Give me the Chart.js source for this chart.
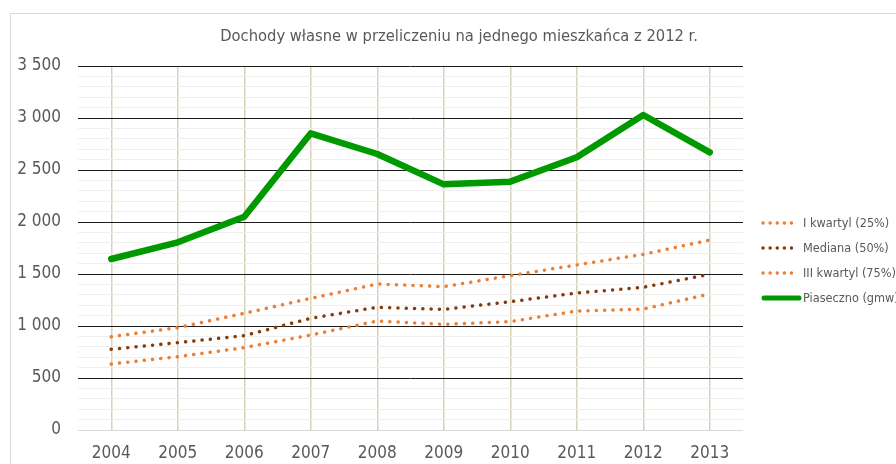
<!DOCTYPE html>
<html><head><meta charset="utf-8">
<script src="https://cdn.jsdelivr.net/npm/chart.js@4.4.0/dist/chart.umd.min.js"></script>
<style>
html,body{margin:0;padding:0;background:#fff;}
#wrap{position:relative;width:896px;height:464px;overflow:hidden;}
#frame{position:absolute;left:10px;top:13px;width:900px;height:470px;border:1px solid #d9d9d9;box-sizing:border-box;}
canvas{position:absolute;left:0;top:0;}
</style></head><body>
<div id="wrap"><div id="frame"></div><canvas id="c" width="896" height="464"></canvas></div>
<script>
const chartTitle = 'Dochody własne w przeliczeniu na jednego mieszkańca z 2012 r.';
const years = ['2004','2005','2006','2007','2008','2009','2010','2011','2012','2013'];
const q1 = [635, 705, 792, 913, 1048, 1016, 1042, 1144, 1163, 1308];
const median = [776, 840, 907, 1074, 1180, 1160, 1234, 1317, 1372, 1497];
const q3 = [897, 984, 1122, 1266, 1404, 1378, 1484, 1587, 1689, 1827];
const piaseczno = [1644, 1805, 2051, 2853, 2654, 2362, 2388, 2622, 3029, 2670];
const seriesNames = ['I kwartyl (25%)', 'Mediana (50%)', 'III kwartyl (75%)', 'Piaseczno (gmw)'];
const yMin = 0, yMax = 3500, yLabelStep = 500, yMinorStep = 100;

const FONT = "'Liberation Sans Narrow', 'DejaVu Sans Condensed', sans-serif";
const TXT = '#595959';
const ORANGE = '#ED7D31', BROWN = '#843C0C', GREEN = '#009A00';

function fmt(v){ return String(v).replace(/\B(?=(\d{3})+(?!\d))/g, ' '); }

const dotted = (label, data, color) => ({
  label, data, borderColor: color, backgroundColor: color,
  borderWidth: 3.5, borderDash: [0.1, 8.2], borderCapStyle: 'round',
  pointRadius: 0, tension: 0, fill: false
});

const extras = {
  id: 'extras',
  afterDraw(chart){
    const ctx = chart.ctx;
    ctx.save();
    ctx.fillStyle = TXT;
    ctx.font = '16.4px ' + FONT;
    ctx.textAlign = 'center';
    ctx.textBaseline = 'middle';
    ctx.fillText(chartTitle, 459, 37);
    const ys = [223, 248, 273, 298];
    ctx.font = '12.6px ' + FONT;
    ctx.textAlign = 'left';
    chart.data.datasets.forEach((ds, i) => {
      const y = ys[i];
      ctx.beginPath();
      ctx.strokeStyle = ds.borderColor;
      ctx.lineCap = 'round';
      if (i < 3) {
        ctx.lineWidth = 3.4;
        ctx.setLineDash([0.1, 7]);
        ctx.moveTo(763, y); ctx.lineTo(792, y);
      } else {
        ctx.lineWidth = 5;
        ctx.setLineDash([]);
        ctx.moveTo(764, y); ctx.lineTo(799, y);
      }
      ctx.stroke();
      ctx.setLineDash([]);
      ctx.fillStyle = TXT;
      ctx.fillText(seriesNames[i], 803, y + 1);
    });
    ctx.restore();
  }
};

new Chart(document.getElementById('c'), {
  type: 'line',
  data: {
    labels: years,
    datasets: [
      dotted(seriesNames[0], q1, ORANGE),
      dotted(seriesNames[1], median, BROWN),
      dotted(seriesNames[2], q3, ORANGE),
      { label: seriesNames[3], data: piaseczno, borderColor: GREEN, backgroundColor: GREEN,
        borderWidth: 6.5, borderCapStyle: 'round', borderJoinStyle: 'round', pointRadius: 0, tension: 0 }
    ]
  },
  options: {
    responsive: false, animation: false, devicePixelRatio: 1,
    layout: { padding: { left: 0, top: 66, right: 153, bottom: 0 } },
    plugins: { legend: { display: false }, title: { display: false }, tooltip: { enabled: false } },
    scales: {
      x: {
        type: 'category', offset: true,
        grid: { offset: false, color: '#D8D2B8', lineWidth: 1.5, drawTicks: false },
        border: { display: false },
        ticks: { color: TXT, font: { family: FONT, size: 17 }, padding: 13, maxRotation: 0 },
        afterFit(s){ s.height = 34; }
      },
      y: {
        min: yMin, max: yMax,
        grid: {
          drawTicks: false,
          color: c => { const v = c.tick.value; return v === 0 ? '#d9d9d9' : (v % yLabelStep === 0 ? '#1c1c1c' : '#efefef'); },
          lineWidth: 1
        },
        border: { display: false },
        ticks: {
          stepSize: yMinorStep, maxTicksLimit: 100, autoSkip: false,
          color: TXT, font: { family: FONT, size: 17 }, padding: 17,
          callback: v => (v % yLabelStep === 0 ? fmt(v) : '')
        },
        afterFit(s){ s.width = 78; }
      }
    }
  },
  plugins: [extras]
});
</script>
</body></html>
